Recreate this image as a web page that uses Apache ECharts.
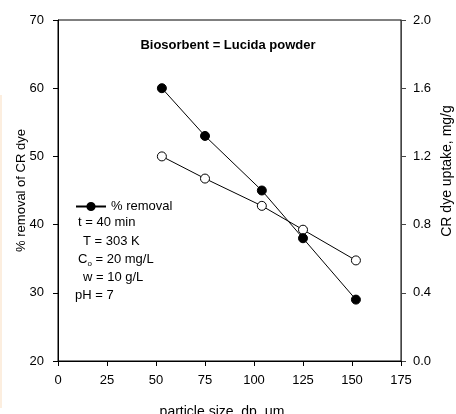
<!DOCTYPE html>
<html>
<head>
<meta charset="utf-8">
<script src="https://cdn.jsdelivr.net/npm/echarts@6/dist/echarts.min.js"></script>
<style>
  html, body { margin: 0; padding: 0; background: #fff; }
  #chart { width: 456px; height: 414px; }
</style>
</head>
<body>
<div id="chart"></div>
<script>
// Particle size (µm) for each run
var particleSize = [53, 75, 104, 125, 152];
// Percentage of Congo red removed
var removalPct = [60, 53, 45, 38, 29];
// Dye uptake (mg/g)
var dyeUptake = [1.2, 1.07, 0.91, 0.77, 0.59];

var leftTicks = { min: 20, max: 70, step: 10 };
var rightTicks = { min: 0, max: 2, step: 0.4 };
var xTicks = { min: 0, max: 175, step: 25 };

var FONT = 'Liberation Sans, Arial, sans-serif';

function pairs(xs, ys) {
  return xs.map(function (x, i) { return [x, ys[i]]; });
}

var chart = echarts.init(document.getElementById('chart'), null, { renderer: 'canvas' });

// Experimental conditions listed under the legend
var conditions = [
  { text: 't = 40 min', x: 78, y: 223 },
  { text: 'T = 303 K', x: 83, y: 242 },
  { text: '{n|C}{s|o}{n| = 20 mg/L}', x: 78, y: 260 },
  { text: 'w = 10 g/L', x: 83, y: 278 },
  { text: 'pH = 7', x: 75, y: 296 }
];

var option = {
  animation: false,
  backgroundColor: '#fff',
  textStyle: { fontFamily: FONT },
  title: {
    text: 'Biosorbent = Lucida powder',
    left: 'center',
    top: 34,
    textStyle: { fontFamily: FONT, fontSize: 13, fontWeight: 'bold', color: '#000' }
  },
  grid: {
    left: 58, right: 55, top: 20, bottom: 53,
    outerBoundsMode: 'none',
    containLabel: false,
    show: true, borderColor: '#000', borderWidth: 1, backgroundColor: 'transparent'
  },
  legend: {
    data: ['% removal'],
    left: 70,
    top: 195,
    itemWidth: 30,
    itemHeight: 9,
    textStyle: { fontFamily: FONT, fontSize: 13, color: '#000' }
  },
  xAxis: {
    type: 'value',
    min: xTicks.min, max: xTicks.max, interval: xTicks.step,
    name: 'particle size, dp, \u03bcm',
    nameLocation: 'middle',
    nameGap: 44,
    nameMoveOverlap: false,
    nameTextStyle: { fontFamily: FONT, fontSize: 14, color: '#000', padding: [0, 15, 0, 0] },
    axisLine: { lineStyle: { color: '#000', width: 1 } },
    axisTick: { inside: false, length: 5, lineStyle: { color: '#000' } },
    axisLabel: { margin: 13, fontFamily: FONT, fontSize: 13, color: '#000' },
    splitLine: { show: false }
  },
  yAxis: [
    {
      type: 'value',
      min: leftTicks.min, max: leftTicks.max, interval: leftTicks.step,
      name: '% removal of CR dye',
      nameLocation: 'middle',
      nameGap: 30,
      nameMoveOverlap: false,
      nameTextStyle: { fontFamily: FONT, fontSize: 13, color: '#000' },
      axisLine: { show: true, lineStyle: { color: '#000', width: 1 } },
      axisTick: { show: true, length: 5, lineStyle: { color: '#000' } },
      axisLabel: { margin: 14, fontFamily: FONT, fontSize: 13, color: '#000' },
      splitLine: { show: false }
    },
    {
      type: 'value',
      position: 'right',
      min: rightTicks.min, max: rightTicks.max, interval: rightTicks.step,
      axisLine: { show: true, lineStyle: { color: '#444', width: 1 } },
      axisTick: { show: true, length: 5, lineStyle: { color: '#444' } },
      axisLabel: {
        margin: 12, fontFamily: FONT, fontSize: 13, color: '#000',
        formatter: function (v) { return v.toFixed(1); }
      },
      splitLine: { show: false }
    }
  ],
  series: [
    {
      name: '% removal',
      type: 'line',
      yAxisIndex: 0,
      data: pairs(particleSize, removalPct),
      symbol: 'circle',
      symbolSize: 9,
      lineStyle: { color: '#000', width: 1 },
      itemStyle: { color: '#000', borderColor: '#000', borderWidth: 1 },
      z: 3
    },
    {
      name: 'uptake',
      type: 'line',
      yAxisIndex: 1,
      data: pairs(particleSize, dyeUptake),
      symbol: 'circle',
      symbolSize: 9,
      lineStyle: { color: '#000', width: 1 },
      itemStyle: { color: '#fff', borderColor: '#000', borderWidth: 1 },
      z: 2
    }
  ],
  graphic: conditions.map(function (c) {
    return {
      type: 'text',
      left: c.x,
      top: c.y - 7,
      style: {
        text: c.text,
        fontFamily: FONT,
        fontSize: 13,
        fill: '#000',
        rich: {
          n: { fontFamily: FONT, fontSize: 13, fill: '#000' },
          s: { fontFamily: FONT, fontSize: 8, fill: '#000', padding: [8, 0, 0, 0] }
        }
      }
    };
  }).concat([
    {
      // right-hand axis title, rotated to read bottom-to-top
      type: 'text',
      x: 447,
      y: 171,
      rotation: Math.PI / 2,
      style: {
        text: 'CR dye uptake, mg/g',
        fontFamily: FONT,
        fontSize: 14,
        fill: '#000',
        align: 'center',
        verticalAlign: 'middle'
      }
    },
    {
      type: 'line',
      shape: { x1: 1, y1: 95, x2: 1, y2: 408 },
      style: { stroke: '#fbe8d4', lineWidth: 1.5 }
    }
  ])
};

chart.setOption(option);
</script>
</body>
</html>
